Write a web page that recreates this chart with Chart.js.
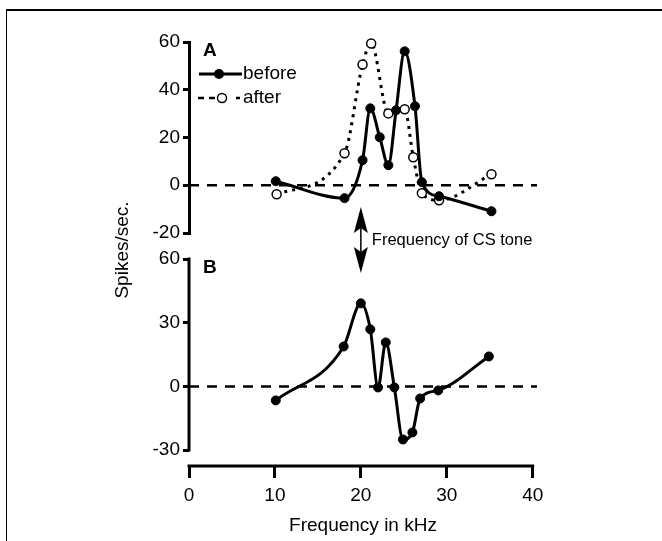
<!DOCTYPE html>
<html>
<head>
<meta charset="utf-8">
<script src="https://cdn.jsdelivr.net/npm/chart.js@4"></script>
<style>
  body { margin: 0; background: #fff; }
  #wrap { position: relative; width: 662px; height: 541px; overflow: hidden; }
  #frame { position: absolute; left: 6px; top: 9px; right: -10px; bottom: -10px;
           border-top: 2px solid #000; border-left: 1px solid #000; }
  canvas { position: absolute; left: 0; }
  #chartA { top: 0; }
  #chartB { top: 200px; }
</style>
</head>
<body>
<div id="wrap">
  <div id="frame"></div>
  <canvas id="chartA" width="662" height="250"></canvas>
  <canvas id="chartB" width="662" height="341"></canvas>
</div>
<script>
// panel A: response before / after conditioning
const freqBeforeA = [10.1, 18.1, 20.2, 21.1, 22.2, 23.2, 24.1, 25.1, 26.3, 27.1, 29.1, 35.2];
const spikesBeforeA = [1.7, -5.4, 10.5, 32.2, 20.1, 8.4, 31.4, 56.1, 33.1, 1.3, -4.6, -10.9];
const freqAfterA = [10.2, 18.1, 20.2, 21.2, 23.2, 25.1, 26.1, 27.1, 29.1, 35.2];
const spikesAfterA = [-3.8, 13.4, 50.6, 59.4, 30.1, 31.8, 11.7, -3.3, -6.3, 4.6];

// panel B: difference
const freqB = [10.1, 18.0, 20.0, 21.1, 22.0, 22.9, 23.9, 24.9, 26.0, 26.9, 29.0, 34.9];
const spikesB = [-6.6, 18.8, 39.1, 26.9, -0.5, 20.7, -0.5, -25.0, -21.7, -5.7, -1.9, 14.1];

// axes
const xTicks = [0, 10, 20, 30, 40];
const yTicksA = [-20, 0, 20, 40, 60];
const yTicksB = [-30, 0, 30, 60];
const zeroLineX = [0, 40.5];
const csToneFreq = 20;

const FONT = "'Liberation Sans', Arial, sans-serif";

function pts(xs, ys) {
  return xs.map((x, i) => ({ x: x, y: ys[i] }));
}

function zeroLine() {
  return {
    data: pts(zeroLineX, [0, 0]),
    borderColor: '#000',
    borderWidth: 2.5,
    borderDash: [10, 8],
    pointRadius: 0,
    order: 3
  };
}

function fixTicks(values) {
  return function (scale) {
    scale.ticks = values.map(v => ({ value: v }));
  };
}

const yAxisBase = {
  afterFit: s => { s.width = 189; },
  grid: { drawOnChartArea: false, color: '#000', lineWidth: 3, tickLength: 6 },
  ticks: { color: '#000', font: { family: FONT, size: 19 }, padding: 3 }
};

// legend + panel letter for A
const panelAPlugin = {
  id: 'panelA',
  afterDraw(chart) {
    const c = chart.ctx;
    c.save();
    c.fillStyle = '#000';
    c.strokeStyle = '#000';
    c.textBaseline = 'middle';
    c.font = 'bold 19px ' + FONT;
    c.fillText('A', 203, 51);
    c.font = '19px ' + FONT;
    // before
    c.lineWidth = 3;
    c.beginPath(); c.moveTo(199, 74); c.lineTo(242, 74); c.stroke();
    c.beginPath(); c.arc(219, 74, 5, 0, Math.PI * 2); c.fill();
    c.fillText('before', 243, 74);
    // after
    c.lineWidth = 2.5;
    c.setLineDash([6, 5]);
    c.beginPath(); c.moveTo(198, 98); c.lineTo(216, 98); c.stroke();
    c.setLineDash([]);
    c.beginPath(); c.moveTo(236, 98); c.lineTo(240, 98); c.stroke();
    c.fillStyle = '#fff';
    c.lineWidth = 1.5;
    c.beginPath(); c.arc(222, 98, 4.5, 0, Math.PI * 2); c.fill(); c.stroke();
    c.fillStyle = '#000';
    c.fillText('after', 243, 98);
    c.restore();
  }
};

// axis lines, arrow, labels for B
const panelBPlugin = {
  id: 'panelB',
  afterDraw(chart) {
    const c = chart.ctx;
    const xs = chart.scales.x, ys = chart.scales.y;
    const area = chart.chartArea;
    c.save();
    c.strokeStyle = '#000';
    c.fillStyle = '#000';
    c.lineWidth = 3;
    // y axis line from top tick to bottom tick
    c.beginPath();
    c.moveTo(area.left, ys.getPixelForValue(yTicksB[yTicksB.length - 1]) - 1.5);
    c.lineTo(area.left, ys.getPixelForValue(yTicksB[0]) + 1.5);
    c.stroke();
    // x axis line
    c.beginPath();
    c.moveTo(xs.getPixelForValue(xTicks[0]) - 1.5, area.bottom);
    c.lineTo(xs.getPixelForValue(xTicks[xTicks.length - 1]) + 1.5, area.bottom);
    c.stroke();
    // panel letter
    c.textBaseline = 'middle';
    c.font = 'bold 19px ' + FONT;
    c.fillText('B', 203, 68);
    // y title
    c.font = '19px ' + FONT;
    c.save();
    c.translate(123, 50);
    c.rotate(-Math.PI / 2);
    c.textAlign = 'center';
    c.fillText('Spikes/sec.', 0, 0);
    c.restore();
    // double arrow at CS tone
    const ax = xs.getPixelForValue(csToneFreq);
    c.lineWidth = 1.5;
    c.beginPath(); c.moveTo(ax, 20); c.lineTo(ax, 60); c.stroke();
    c.beginPath(); c.moveTo(ax, 7); c.lineTo(ax - 7, 33); c.lineTo(ax, 28); c.lineTo(ax + 7, 33); c.closePath(); c.fill();
    c.beginPath(); c.moveTo(ax, 73); c.lineTo(ax - 7, 47); c.lineTo(ax, 52); c.lineTo(ax + 7, 47); c.closePath(); c.fill();
    c.font = '16.5px ' + FONT;
    c.fillText('Frequency of CS tone', ax + 11, 40);
    c.restore();
  }
};

Chart.defaults.animation = false;
Chart.defaults.devicePixelRatio = 1;

new Chart(document.getElementById('chartA'), {
  type: 'line',
  data: {
    datasets: [
      {
        label: 'before',
        data: pts(freqBeforeA, spikesBeforeA),
        borderColor: '#000',
        borderWidth: 3,
        cubicInterpolationMode: 'monotone',
        pointRadius: 4.5,
        pointBorderWidth: 1,
        pointBackgroundColor: '#000',
        pointBorderColor: '#000',
        clip: false,
        order: 1
      },
      {
        label: 'after',
        data: pts(freqAfterA, spikesAfterA),
        borderColor: '#000',
        borderWidth: 3,
        borderDash: [3, 5],
        cubicInterpolationMode: 'monotone',
        pointRadius: 4.5,
        pointBorderWidth: 1.5,
        pointBackgroundColor: '#fff',
        pointBorderColor: '#000',
        clip: false,
        order: 2
      },
      zeroLine()
    ]
  },
  options: {
    responsive: false,
    layout: { padding: { top: 42, bottom: 17, left: 0, right: 125 } },
    plugins: { legend: { display: false }, tooltip: { enabled: false } },
    scales: {
      x: { type: 'linear', min: 0, max: 40.5, display: false },
      y: Object.assign({}, yAxisBase, {
        min: -20, max: 60,
        afterBuildTicks: fixTicks(yTicksA),
        border: { display: true, color: '#000', width: 3 }
      })
    }
  },
  plugins: [panelAPlugin]
});

new Chart(document.getElementById('chartB'), {
  type: 'line',
  data: {
    datasets: [
      {
        label: 'difference',
        data: pts(freqB, spikesB),
        borderColor: '#000',
        borderWidth: 3,
        cubicInterpolationMode: 'monotone',
        pointRadius: 4.5,
        pointBorderWidth: 1,
        pointBackgroundColor: '#000',
        pointBorderColor: '#000',
        clip: false,
        order: 1
      },
      zeroLine()
    ]
  },
  options: {
    responsive: false,
    layout: { padding: { top: 59, bottom: 0, left: 0, right: 125 } },
    plugins: { legend: { display: false }, tooltip: { enabled: false } },
    scales: {
      x: {
        type: 'linear', min: 0, max: 40.5,
        afterBuildTicks: fixTicks(xTicks),
        afterFit: s => { s.height = 75; },
        border: { display: false },
        grid: { drawOnChartArea: false, color: '#000', lineWidth: 3, tickLength: 12 },
        ticks: { color: '#000', font: { family: FONT, size: 19 }, padding: 6, maxRotation: 0 },
        title: { display: true, text: 'Frequency in kHz', color: '#000',
                 font: { family: FONT, size: 19 }, padding: { top: 5 } }
      },
      y: Object.assign({}, yAxisBase, {
        min: -37.5, max: 60,
        afterBuildTicks: fixTicks(yTicksB),
        border: { display: false }
      })
    }
  },
  plugins: [panelBPlugin]
});
</script>
</body>
</html>
